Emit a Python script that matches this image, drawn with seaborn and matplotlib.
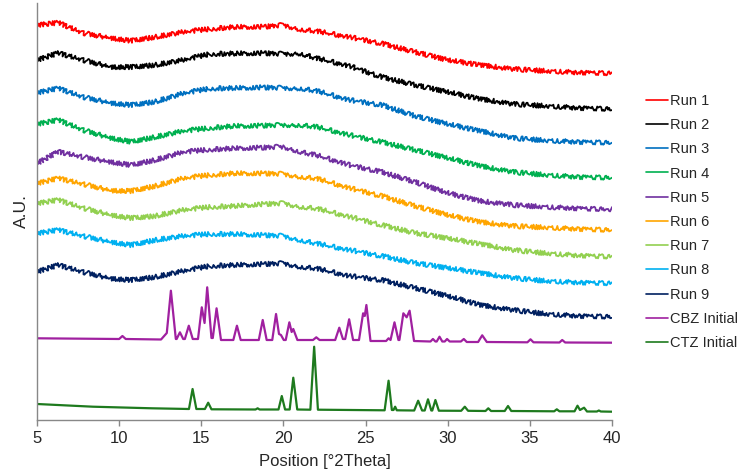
import matplotlib
matplotlib.use("Agg")
import matplotlib.pyplot as plt
import seaborn as sns

# -------------------------
# DATA (arbitrary units)
# -------------------------
run_x = [5, 6.3, 7.8, 9.5, 10.7, 12.2, 13.9, 15.5, 17, 18.8, 20,
         21, 22, 24, 26, 28, 30, 32, 34, 36, 38, 40]

run1 = [395, 397.3, 387, 382, 379.3, 383, 388, 391, 393, 393.3, 395,
        390.7, 389, 383, 376.5, 368, 360, 355, 351, 349, 347.5, 346.7]
run2 = [360, 367, 360, 353, 353, 355, 360, 366, 366.5, 367, 366,
        366.7, 362, 354, 343, 335, 328, 321, 316, 314, 312, 311]
run3 = [327.3, 331.7, 323, 317, 315, 318.3, 326.7, 331.5, 332, 332.7, 332,
        331.7, 329.3, 320, 315, 304, 296, 289, 282, 279.5, 278, 277.3]
run4 = [296, 300, 290, 282, 278.3, 283, 289, 292, 294, 294.5, 295,
        295, 293.3, 285, 278, 270, 262, 254, 248, 245, 243, 242.3]
run5 = [256.7, 268.3, 263, 258, 255, 260, 268, 270.5, 271.7, 272.5, 273.3,
        268.3, 265, 255, 248, 238, 227, 219, 215, 213, 211.5, 210.7]
run6 = [236.7, 241.7, 236, 229.5, 229, 234, 241.7, 245, 246.7, 246.7, 246,
        243.3, 241.7, 232, 224, 214, 205, 198, 194, 192.5, 191, 190]
run7 = [216.7, 220, 212, 205, 202, 204, 210, 213, 214, 216, 216.7,
        213.3, 211.7, 203.3, 195, 187, 181.7, 176, 170, 166.7, 164.5, 163.3]
run8 = [186.7, 190, 184, 178, 175, 180, 184, 186, 186, 185, 184,
        180, 176.7, 170, 164, 157, 152, 147, 142, 139, 137.5, 136.7]
run9 = [148.3, 155, 148, 141.5, 140, 143, 149, 154, 155, 156, 156.7,
        153.3, 151.7, 144, 140, 132, 124, 115, 110, 106, 104, 103.3]

# CBZ initial pattern
cbz_x = [5, 10.0, 10.2, 10.4,
         12.55, 12.9, 13.15, 13.45,
         13.5, 13.7, 13.9,
         14.0, 14.24, 14.48,
         14.8, 15.03, 15.2, 15.36, 15.62,
         15.7, 15.93, 16.2,
         16.95, 17.17, 17.4,
         18.5, 18.74, 18.98,
         19.32, 19.55, 19.73, 19.85, 20.02,
         20.14, 20.36, 20.5, 20.6, 20.85,
         21.8, 22.0, 22.2,
         23.15, 23.4, 23.62,
         23.76, 24.0, 24.24,
         24.6, 24.85, 24.95, 25.05, 25.3,
         26.25, 26.4, 26.52, 26.76, 27.0,
         27.06, 27.3, 27.5, 27.68, 27.95,
         28.95, 29.1, 29.25,
         29.33, 29.5, 29.67,
         29.82, 29.96, 30.12,
         30.8, 30.98, 31.16,
         31.85, 32.1, 32.38,
         34.85, 35.04, 35.22,
         36.8, 36.97, 37.15,
         40]
cbz_y = [81.7, 81, 84, 81,
         80.5, 87, 129.3, 81,
         81, 87.7, 81,
         81, 94.3, 81,
         81, 112.7, 97, 132.7, 82,
         82, 111.7, 80,
         80, 94.3, 80,
         80, 100, 80,
         80, 106, 86, 85, 80,
         80, 97.7, 88, 91, 80,
         80, 82.7, 80,
         80, 92.3, 81,
         81, 100.7, 80,
         80, 106.7, 104, 115, 79,
         79, 81.7, 80, 97.7, 80,
         80, 106.7, 102.7, 109.3, 79,
         78.5, 81, 78.5,
         78.5, 83.3, 78.5,
         78.5, 81, 78.5,
         78.5, 81, 78,
         78, 84.7, 78,
         77.7, 80.7, 77.7,
         77.5, 80, 77.5,
         77.3]

# CTZ initial pattern
ctz_x = [5, 8.4, 12, 14.25, 14.47, 14.7,
         15.22, 15.42, 15.62,
         18.3, 18.43, 18.55,
         19.7, 19.9, 20.1,
         20.38, 20.6, 20.84,
         21.64, 21.87, 22.1,
         26.16, 26.4, 26.6, 26.7, 26.8, 26.9,
         27.96, 28.2, 28.44,
         28.6, 28.8, 29.0,
         29.06, 29.25, 29.46,
         30.82, 31.04, 31.24,
         32.3, 32.47, 32.64,
         33.47, 33.67, 33.87,
         36.48, 36.64, 36.8,
         37.72, 37.9, 38.05, 38.3, 38.48,
         39.08, 39.2, 39.32,
         40]
ctz_y = [16, 13.3, 11.7, 11, 31, 11,
         11, 17.3, 10.7,
         10.5, 11.7, 10.5,
         10.5, 24, 10.5,
         10.5, 42.3, 10.5,
         10.3, 73.3, 10.3,
         9.7, 39.3, 10, 10, 13.3, 9.7,
         9.5, 19.3, 9.5,
         9.5, 20.7, 9.5,
         9.5, 20, 9.3,
         9.2, 13.3, 9.2,
         9, 11.7, 9,
         9, 14, 9,
         8.7, 10.7, 8.7,
         8.7, 14.3, 10, 12.3, 8.5,
         8.5, 9.5, 8.5,
         8.3]

labels = ["Run 1", "Run 2", "Run 3", "Run 4", "Run 5", "Run 6",
          "Run 7", "Run 8", "Run 9", "CBZ Initial", "CTZ Initial"]
colors = ["#FF0000", "#000000", "#0070C0", "#00B050", "#7030A0", "#FFA500",
          "#92D050", "#00B0F0", "#002060", "#A020A0", "#1E7A1E"]

runs = [run1, run2, run3, run4, run5, run6, run7, run8, run9]

# -------------------------
# PLOT
# -------------------------
sns.set_theme(style="white")
plt.rcParams["font.family"] = ["Liberation Sans", "DejaVu Sans"]

fig = plt.figure(figsize=(7.38, 4.74), dpi=100)
ax = fig.add_axes([37 / 738, 1 - 420 / 474, 575 / 738, 417 / 474])

for i, ys in enumerate(runs):
    sns.lineplot(x=run_x, y=ys, color=colors[i], label=labels[i], ax=ax,
                 estimator=None, sort=False, linewidth=1.3)
    # jittery stroke to mimic counting noise
    ax.lines[-1].set_sketch_params(2.3, 1.2, 2.0)

sns.lineplot(x=cbz_x, y=cbz_y, color=colors[9], label=labels[9], ax=ax,
             estimator=None, sort=False, linewidth=1.6)
sns.lineplot(x=ctz_x, y=ctz_y, color=colors[10], label=labels[10], ax=ax,
             estimator=None, sort=False, linewidth=1.6)

ax.set_xlim(5, 40)
ax.set_ylim(0, 417)
ax.set_xticks([5, 10, 15, 20, 25, 30, 35, 40])
ax.set_yticks([])
ax.tick_params(axis="x", labelsize=12, length=4, width=1, color="#888888",
               direction="out", bottom=True, pad=4)

for s in ["top", "right"]:
    ax.spines[s].set_visible(False)
for s in ["left", "bottom"]:
    ax.spines[s].set_color("#888888")
    ax.spines[s].set_linewidth(1)

ax.set_xlabel("Position [°2Theta]", fontsize=12, labelpad=6)
ax.set_ylabel("A.U.", fontsize=12.5, labelpad=6)

leg = ax.legend(loc="center left", bbox_to_anchor=(646 / 738, 1 - 222 / 474),
                bbox_transform=fig.transFigure, frameon=False, fontsize=10.5,
                handlelength=1.5, handletextpad=0.15, labelspacing=0.7,
                borderaxespad=0, borderpad=0)
for h in leg.get_lines():
    h.set_sketch_params(None)
    h.set_linewidth(1.2)

plt.savefig("out.png", dpi=100)
plt.close()
